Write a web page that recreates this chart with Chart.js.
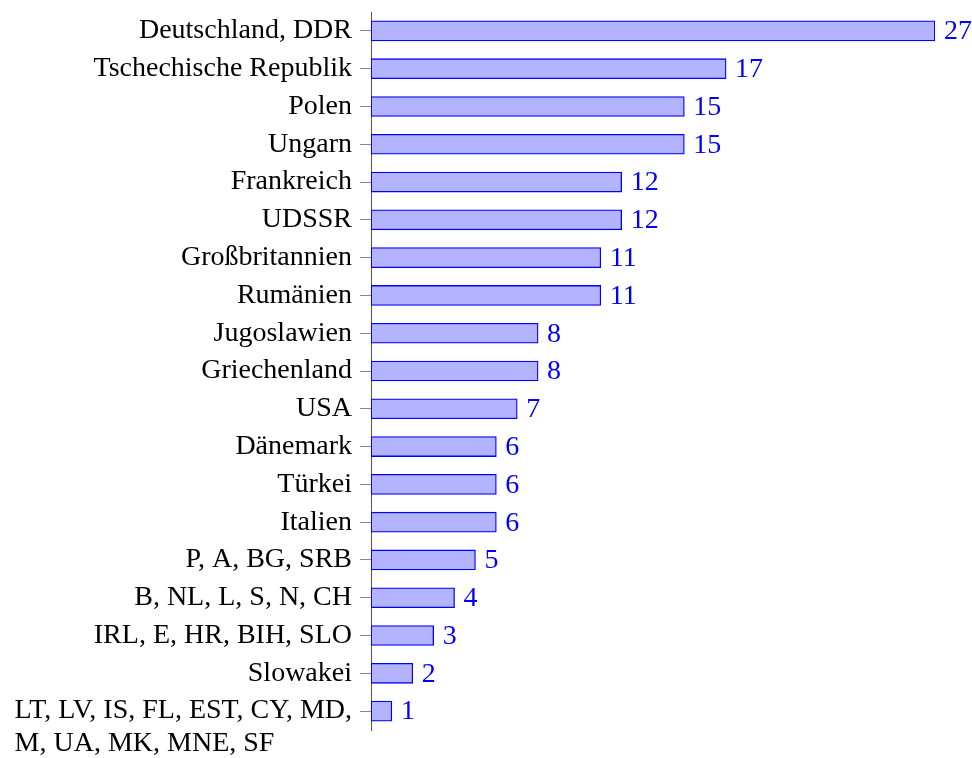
<!DOCTYPE html>
<html>
<head>
<meta charset="utf-8">
<script src="https://cdn.jsdelivr.net/npm/chart.js@4/dist/chart.umd.min.js"></script>
<style>
  html, body { margin: 0; padding: 0; background: #fff; }
  #wrap { width: 972px; height: 758px; }
</style>
</head>
<body>
<div id="wrap"><canvas id="chart" width="972" height="758"></canvas></div>
<script>
var countries = ["Deutschland, DDR", "Tschechische Republik", "Polen", "Ungarn", "Frankreich",
  "UDSSR", "Großbritannien", "Rumänien", "Jugoslawien", "Griechenland", "USA", "Dänemark",
  "Türkei", "Italien", "P, A, BG, SRB", "B, NL, L, S, N, CH", "IRL, E, HR, BIH, SLO",
  "Slowakei", "LT, LV, IS, FL, EST, CY, MD,"];
var secondLines = ["", "", "", "", "", "", "", "", "", "", "", "", "", "", "", "", "", "",
  "M, UA, MK, MNE, SF"];
var counts = [27, 17, 15, 15, 12, 12, 11, 11, 8, 8, 7, 6, 6, 6, 5, 4, 3, 2, 1];
var xMax = 27;

var font = "28px 'Liberation Serif'";

// numbers at the end of each bar, plus the wrapped second line of a label
var extras = {
  id: "extras",
  afterDatasetsDraw: function(chart) {
    var ctx = chart.ctx;
    var meta = chart.getDatasetMeta(0);
    ctx.save();
    ctx.font = font;
    ctx.fillStyle = "#0000ff";
    ctx.textAlign = "left";
    ctx.textBaseline = "middle";
    meta.data.forEach(function(bar, i) {
      ctx.fillText(String(counts[i]), bar.x + 9, bar.y + 1);
    });
    var yScale = chart.scales.y;
    var right = chart.chartArea.left - 11 - 8;
    ctx.fillStyle = "#000";
    secondLines.forEach(function(line, i) {
      if (!line) return;
      var y = yScale.getPixelForTick(i);
      var left = right - ctx.measureText(countries[i]).width;
      ctx.fillText(line, left, y + 33);
    });
    ctx.restore();
  }
};

new Chart(document.getElementById("chart"), {
  type: "bar",
  data: {
    labels: countries,
    datasets: [{
      data: counts,
      backgroundColor: "rgb(179,179,255)",
      borderColor: "rgb(0,0,255)",
      borderWidth: 1.3,
      borderSkipped: false,
      barThickness: 20
    }]
  },
  options: {
    indexAxis: "y",
    responsive: false,
    animation: false,
    layout: { padding: { left: 10, right: 37, top: 12, bottom: 28 } },
    plugins: { legend: { display: false }, tooltip: { enabled: false } },
    scales: {
      x: { display: false, min: 0, max: xMax },
      y: {
        afterFit: function(scale) {
          scale.width = 361;
          scale.paddingTop = 0;
          scale.paddingBottom = 0;
        },
        grid: { offset: false, drawOnChartArea: false, tickLength: 11, color: "#888", lineWidth: 1 },
        border: { color: "#555", width: 1 },
        ticks: { font: { family: "Liberation Serif", size: 28 }, color: "#000", padding: 8, autoSkip: false }
      }
    }
  },
  plugins: [extras]
});
</script>
</body>
</html>
